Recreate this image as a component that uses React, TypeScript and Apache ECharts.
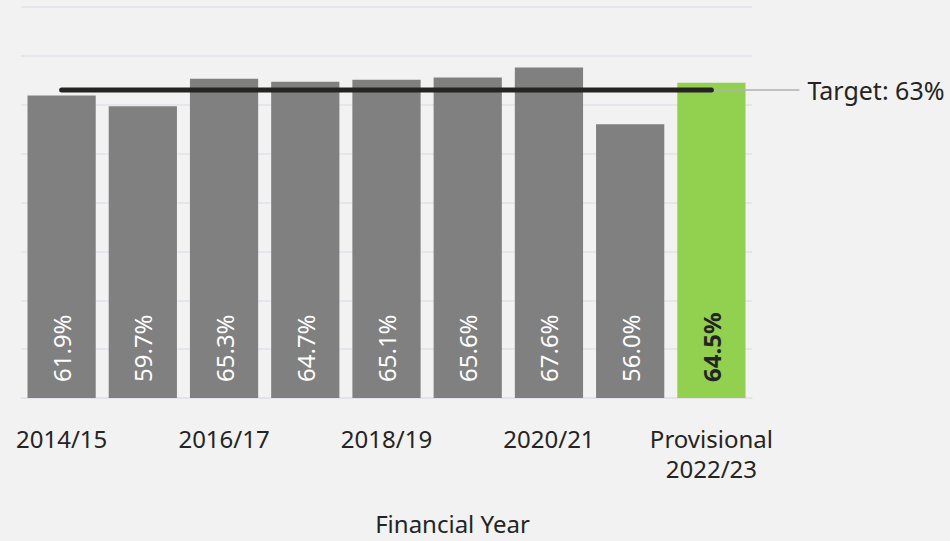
import React, { useEffect, useRef } from "react";
import * as echarts from "echarts";

const categories = ["2014/15", "2015/16", "2016/17", "2017/18", "2018/19", "2019/20", "2020/21", "2021/22", "Provisional\n2022/23"];
const values = [61.9, 59.7, 65.3, 64.7, 65.1, 65.6, 67.6, 56.0, 64.5];
const targetValue = 63;
const targetLabel = "Target: 63%";
const yTicks = { min: 0, max: 80, interval: 10 };

const FONT = "'Noto Sans', 'Open Sans', sans-serif";
const DARK = "#252423";

export default function App() {
  const ref = useRef<HTMLDivElement>(null);
  useEffect(() => {
    if (!ref.current) return;
    const chart = echarts.init(ref.current, null, { renderer: "svg" });
    const last = values.length - 1;
    const option: any = {
      animation: false,
      backgroundColor: "#f2f2f2",
      textStyle: { fontFamily: FONT },
      grid: { left: 21, right: 198, top: 7, bottom: 143 },
      xAxis: {
        type: "category",
        data: categories,
        axisTick: { show: false },
        axisLine: { lineStyle: { color: "#e3e1e8", width: 1.5 } },
        axisLabel: { interval: 1, color: DARK, fontSize: 24, fontFamily: FONT, margin: 25, lineHeight: 30 },
        name: "Financial Year",
        nameLocation: "middle",
        nameGap: 113,
        nameTextStyle: { color: DARK, fontSize: 24, fontFamily: FONT, padding: [0, 0, 0, 132] },
      },
      yAxis: {
        type: "value",
        min: yTicks.min,
        max: yTicks.max,
        interval: yTicks.interval,
        axisLabel: { show: false },
        axisLine: { show: false },
        axisTick: { show: false },
        splitLine: { lineStyle: { color: "#e3e1e8", width: 1.5 } },
      },
      series: [
        {
          type: "bar",
          barCategoryGap: "16%",
          data: values.map((v, i) => ({
            value: v,
            itemStyle: { color: i === last ? "#92d050" : "#808080" },
            label: i === last ? { color: DARK, fontWeight: "bold" } : undefined,
          })),
          label: {
            show: true,
            position: "insideBottom",
            rotate: 90,
            align: "left",
            verticalAlign: "middle",
            distance: 16,
            color: "#ffffff",
            fontSize: 24,
            fontFamily: FONT,
            formatter: (p: any) => p.value.toFixed(1) + "%",
          },
        },
        {
          type: "line",
          data: categories.map(() => targetValue),
          symbol: "none",
          lineStyle: { color: DARK, width: 5, cap: "round" },
          z: 5,
        },
      ],
    };
    chart.setOption(option);
    const p = chart.convertToPixel({ xAxisIndex: 0, yAxisIndex: 0 }, [last, targetValue]) as number[];
    chart.setOption({
      graphic: [
        {
          type: "line",
          shape: { x1: p[0], y1: p[1], x2: p[0] + 88, y2: p[1] },
          style: { stroke: "#b3b0ad", lineWidth: 1.5 },
          z: 4,
        },
        {
          type: "text",
          x: p[0] + 96,
          y: p[1],
          style: { text: targetLabel, fill: DARK, fontSize: 25, fontFamily: FONT, verticalAlign: "middle", align: "left" },
        },
      ],
    });
    return () => chart.dispose();
  }, []);
  return <div ref={ref} style={{ position: "fixed", left: 0, top: 0, width: 950, height: 541, background: "#f2f2f2" }} />;
}
